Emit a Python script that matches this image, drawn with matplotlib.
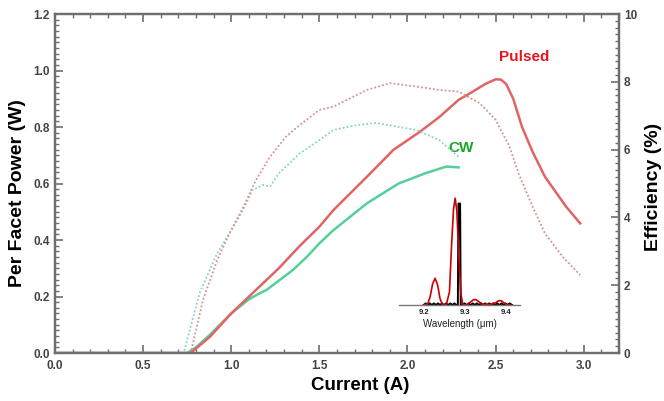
import numpy as np
import matplotlib.pyplot as plt
from matplotlib.ticker import MultipleLocator

plt.rcParams['font.family'] = ['Liberation Sans', 'DejaVu Sans']

# per facet power (W), solid lines
pulsed_i = [0.0, 0.77, 0.88, 1.0, 1.14, 1.27, 1.39, 1.50, 1.58, 1.77, 1.92, 2.07, 2.18, 2.29, 2.37, 2.44, 2.50, 2.53, 2.56, 2.60, 2.65, 2.71, 2.78, 2.90, 2.98]
pulsed_p = [0.0, 0.0, 0.058, 0.14, 0.223, 0.30, 0.38, 0.447, 0.506, 0.624, 0.719, 0.783, 0.835, 0.896, 0.925, 0.952, 0.969, 0.968, 0.952, 0.90, 0.80, 0.712, 0.624, 0.518, 0.459]
cw_i = [0.0, 0.75, 0.80, 0.88, 1.0, 1.10, 1.16, 1.20, 1.35, 1.43, 1.50, 1.58, 1.77, 1.95, 2.10, 2.22, 2.29]
cw_p = [0.0, 0.0, 0.02, 0.065, 0.14, 0.19, 0.211, 0.223, 0.294, 0.341, 0.388, 0.435, 0.53, 0.60, 0.636, 0.66, 0.657]

# efficiency (%), dotted lines
pulsed_eff_i = [0.0, 0.77, 0.84, 0.92, 0.99, 1.07, 1.14, 1.22, 1.31, 1.39, 1.50, 1.58, 1.77, 1.90, 2.05, 2.18, 2.29, 2.41, 2.50, 2.58, 2.63, 2.71, 2.78, 2.88, 2.98]
pulsed_eff = [0.0, 0.0, 1.57, 2.74, 3.53, 4.32, 5.10, 5.79, 6.38, 6.73, 7.17, 7.27, 7.76, 7.96, 7.86, 7.76, 7.71, 7.37, 6.88, 6.08, 5.30, 4.32, 3.53, 2.84, 2.30]
cw_eff_i = [0.0, 0.73, 0.82, 0.92, 0.99, 1.07, 1.12, 1.18, 1.22, 1.27, 1.39, 1.50, 1.58, 1.70, 1.82, 2.05, 2.18, 2.29]
cw_eff = [0.0, 0.0, 1.76, 2.94, 3.53, 4.25, 4.81, 4.96, 4.91, 5.30, 5.89, 6.28, 6.58, 6.71, 6.79, 6.58, 6.28, 5.79]

# inset spectra
red_wl = [9.200, 9.210, 9.216, 9.222, 9.228, 9.234, 9.240, 9.246, 9.255, 9.263, 9.268, 9.273, 9.277, 9.281, 9.286, 9.291, 9.296, 9.305, 9.315, 9.322, 9.328, 9.335, 9.345, 9.360, 9.375, 9.383, 9.389, 9.396, 9.405, 9.412]
red_int = [0.0, 0.01, 0.08, 0.20, 0.25, 0.19, 0.06, 0.0, 0.0, 0.12, 0.55, 0.90, 1.0, 0.88, 0.45, 0.10, 0.0, 0.0, 0.03, 0.05, 0.05, 0.03, 0.005, 0.005, 0.02, 0.04, 0.04, 0.02, 0.0, 0.0]
blk_wl = [9.200, 9.205, 9.210, 9.215, 9.220, 9.225, 9.230, 9.235, 9.240, 9.245, 9.250, 9.255, 9.260, 9.265, 9.270, 9.275, 9.280, 9.2835, 9.285, 9.289, 9.2905, 9.293, 9.300, 9.305, 9.310, 9.315, 9.320, 9.325, 9.330, 9.335, 9.340, 9.345, 9.350, 9.355, 9.360, 9.365, 9.370, 9.375, 9.380, 9.385, 9.390, 9.395, 9.400, 9.405, 9.410, 9.416]
blk_int = [0.0, 0.015, 0.0, 0.015, 0.0, 0.015, 0.0, 0.015, 0.0, 0.015, 0.0, 0.015, 0.0, 0.015, 0.0, 0.015, 0.0, 0.0, 0.95, 0.95, 0.0, 0.0, 0.015, 0.0, 0.015, 0.0, 0.015, 0.0, 0.015, 0.0, 0.015, 0.0, 0.015, 0.0, 0.015, 0.0, 0.015, 0.0, 0.015, 0.0, 0.015, 0.0, 0.015, 0.0, 0.015, 0.0]

gray = '#6e6e6e'
tick_col = '#444444'
W, H = 664, 401

fig = plt.figure(figsize=(6.64, 4.01), dpi=100)
ax = fig.add_axes([0.0828, 0.1197, 0.8494, 0.8453])
ax2 = ax.twinx()

ax.plot(cw_i, cw_p, color='#55cf9c', lw=1.8, zorder=3)
ax.plot(pulsed_i, pulsed_p, color='#e06464', lw=1.8, zorder=4)
ax2.plot(cw_eff_i, cw_eff, color='#86d6bc', lw=1.3, linestyle=(0, (1, 1.2)))
ax2.plot(pulsed_eff_i, pulsed_eff, color='#d99090', lw=1.3, linestyle=(0, (1, 1.2)))

ax.set_xlim(0, 3.2)
ax.set_ylim(0, 1.2)
ax2.set_ylim(0, 10)

ax.xaxis.set_major_locator(MultipleLocator(0.5))
ax.xaxis.set_minor_locator(MultipleLocator(0.1))
ax.yaxis.set_major_locator(MultipleLocator(0.2))
ax.yaxis.set_minor_locator(MultipleLocator(0.02))
ax2.yaxis.set_major_locator(MultipleLocator(2))
ax2.yaxis.set_minor_locator(MultipleLocator(0.2))
ax.xaxis.set_major_formatter(plt.FuncFormatter(lambda v, p: f'{v:.1f}'))
ax.yaxis.set_major_formatter(plt.FuncFormatter(lambda v, p: f'{v:.1f}'))

ax.tick_params(axis='x', which='both', direction='in', top=True, bottom=True, colors=gray, labelcolor=tick_col, labelsize=8.5, pad=5)
ax.tick_params(axis='y', which='both', direction='in', left=True, right=False, colors=gray, labelcolor=tick_col, labelsize=8.5)
ax2.tick_params(axis='y', which='both', direction='in', right=True, colors=gray, labelcolor=tick_col, labelsize=8.5)
for a in (ax, ax2):
    a.tick_params(which='major', length=6, width=1.2)
    a.tick_params(which='minor', length=3, width=1.0)
    for lab in a.get_xticklabels() + a.get_yticklabels():
        lab.set_fontweight('bold')
    for s in a.spines.values():
        s.set_color(gray)
        s.set_linewidth(1.6)

# axis titles, placed where the reference has them
fig.text(360 / W, 1 - 386 / H, 'Current (A)', fontsize=13.5, fontweight='bold', ha='center', va='center')
fig.text(18 / W, 1 - 193 / H, 'Per Facet Power (W)', fontsize=14, fontweight='bold', ha='center', va='center', rotation=90)
fig.text(654 / W, 1 - 187 / H, 'Efficiency (%)', fontsize=14, fontweight='bold', ha='center', va='center', rotation=90)

ax.text(2.66, 1.048, 'Pulsed', color='#e8141c', fontsize=11, fontweight='bold', ha='center', va='center')
ax.text(2.305, 0.726, 'CW', color='#16a82a', fontsize=11, fontweight='bold', ha='center', va='center')

# inset spectrum
ins = fig.add_axes([0.601, 0.2394, 0.182, 0.2743])
ins.patch.set_alpha(0)
ins.plot(blk_wl, blk_int, color='black', lw=1.4)
ins.plot(red_wl, red_int, color='#cc0000', lw=1.2)
ins.set_xlim(9.14, 9.435)
ins.set_ylim(0, 1.03)
for k in ('left', 'right', 'top'):
    ins.spines[k].set_visible(False)
ins.spines['bottom'].set_color('#777777')
ins.spines['bottom'].set_linewidth(1.0)
ins.set_yticks([])
ins.set_xticks([9.2, 9.3, 9.4])
ins.set_xticklabels(['9.2', '9.3', '9.4'], fontweight='bold')
ins.tick_params(axis='x', direction='in', length=1.5, width=0.8, labelsize=5.5, pad=3, colors='#777777', labelcolor='#222222')
ins.set_xlabel('Wavelength (\u03bcm)', fontsize=7, labelpad=2, color='#222222')

fig.savefig('out.png', dpi=100)
